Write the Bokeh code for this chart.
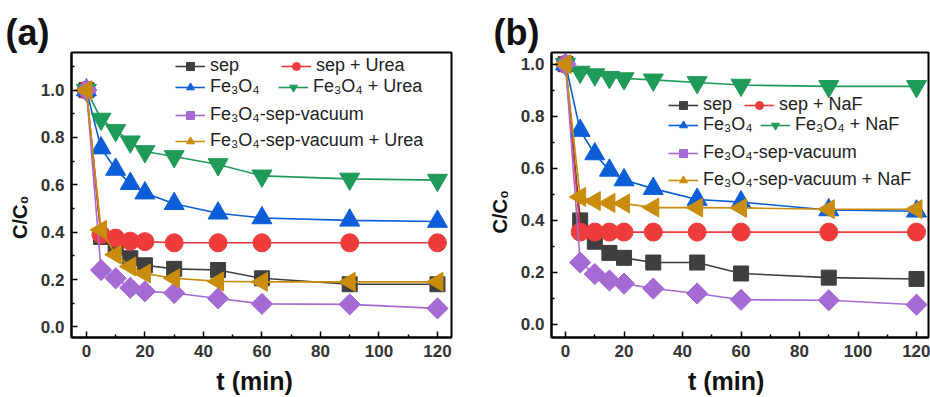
import math

from bokeh.embed import file_html
from bokeh.layouts import row
from bokeh.models import (FixedTicker, Legend, LegendItem,
                          NumeralTickFormatter, Range1d)
from bokeh.plotting import figure
from bokeh.resources import INLINE

# sampling times (min)
t = [0, 5, 10, 15, 20, 30, 45, 60, 90, 120]

# panel (a): with / without urea
a_sep = [1.0, 0.38, 0.335, 0.29, 0.26, 0.245, 0.24, 0.205, 0.18, 0.18]
a_sep_urea = [1.0, 0.39, 0.375, 0.362, 0.36, 0.355, 0.355, 0.355, 0.355, 0.355]
a_fe = [1.0, 0.755, 0.665, 0.605, 0.565, 0.52, 0.48, 0.46, 0.45, 0.445]
a_fe_urea = [1.0, 0.878, 0.83, 0.782, 0.741, 0.72, 0.686, 0.638, 0.625, 0.62]
a_vac = [1.0, 0.24, 0.205, 0.165, 0.15, 0.143, 0.12, 0.097, 0.095, 0.078]
a_vac_urea = [1.0, 0.41, 0.305, 0.255, 0.225, 0.205, 0.192, 0.19, 0.19, 0.19]

# panel (b): with / without NaF
b_sep = [1.0, 0.40, 0.318, 0.275, 0.256, 0.238, 0.238, 0.196, 0.18, 0.175]
b_sep_naf = [1.0, 0.355, 0.355, 0.355, 0.355, 0.355, 0.355, 0.355, 0.355, 0.355]
b_fe = [1.0, 0.745, 0.655, 0.592, 0.555, 0.522, 0.48, 0.47, 0.44, 0.435]
b_fe_naf = [1.0, 0.97, 0.96, 0.95, 0.945, 0.94, 0.93, 0.92, 0.915, 0.915]
b_vac = [1.0, 0.238, 0.194, 0.169, 0.157, 0.138, 0.119, 0.095, 0.093, 0.076]
b_vac_naf = [1.0, 0.49, 0.474, 0.467, 0.465, 0.449, 0.449, 0.448, 0.443, 0.443]

labels_a = ["sep", "sep + Urea", "Fe₃O₄", "Fe₃O₄ + Urea",
            "Fe₃O₄-sep-vacuum", "Fe₃O₄-sep-vacuum + Urea"]
labels_b = ["sep", "sep + NaF", "Fe₃O₄", "Fe₃O₄ + NaF",
            "Fe₃O₄-sep-vacuum", "Fe₃O₄-sep-vacuum + NaF"]

x_major = [0, 20, 40, 60, 80, 100, 120]
x_minor = [10, 30, 50, 70, 90, 110]
y_major = [0.0, 0.2, 0.4, 0.6, 0.8, 1.0]
y_minor = [0.1, 0.3, 0.5, 0.7, 0.9, 1.1]

FONT = "Liberation Sans"
NBSP = "\u00a0"

# marker styles: (colour, marker, size, angle)
STYLES = [
    ("#3f3f3f", "square", 15, 0.0),
    ("#ee3b3b", "circle", 18, 0.0),
    ("#0b5ed7", "triangle", 20, 0.0),
    ("#1f9a58", "inverted_triangle", 20, 0.0),
    ("#a66ad4", "square", 15, math.pi / 4),
    ("#c98c0b", "triangle", 19, math.pi / 2),
]


def make_panel(tag, tag_x, series, labels, xr, yr, border_left, border_right,
               key_pos, x_pad, y_pad):
    p = figure(width=465, height=397, x_range=Range1d(*xr),
               y_range=Range1d(*yr), output_backend="svg",
               toolbar_location=None, min_border_left=border_left,
               min_border_right=border_right, min_border_top=52,
               min_border_bottom=53, background_fill_color="white",
               border_fill_color="white")
    p.xgrid.visible = False
    p.ygrid.visible = False
    p.outline_line_color = "black"
    p.outline_line_width = 2

    # panel tag "(a)" / "(b)" in the top-left corner
    p.title.text = tag
    p.title.align = "left"
    p.title.offset = tag_x - border_left
    p.title.standoff = 0
    p.title.text_font = FONT
    p.title.text_font_style = "bold"
    p.title.text_font_size = "36px"
    p.title.text_color = "#111111"

    p.xaxis.ticker = FixedTicker(ticks=x_major, minor_ticks=x_minor)
    p.yaxis.ticker = FixedTicker(ticks=y_major, minor_ticks=y_minor)
    p.yaxis.formatter = NumeralTickFormatter(format="0.0")
    # trailing no-break spaces nudge the centred axis titles
    p.xaxis.axis_label = "t (min)" + NBSP * x_pad
    p.yaxis.axis_label = "C/C₀" + NBSP * y_pad
    for ax in (p.xaxis[0], p.yaxis[0]):
        ax.axis_line_width = 2
        ax.major_tick_in = 6
        ax.major_tick_out = 0
        ax.minor_tick_in = 3
        ax.minor_tick_out = 0
        ax.major_tick_line_width = 1.5
        ax.minor_tick_line_width = 1.5
        ax.major_label_text_font = FONT
        ax.major_label_text_font_style = "bold"
        ax.major_label_text_font_size = "17px"
        ax.major_label_text_color = "#333333"
        ax.major_label_standoff = 7
        ax.axis_label_text_font = FONT
        ax.axis_label_text_font_style = "bold"
        ax.axis_label_text_color = "#111111"
        ax.axis_label_standoff = 7
    p.xaxis.axis_label_text_font_size = "25px"
    p.yaxis.axis_label_text_font_size = "20px"

    frame_left = border_left
    frame_bottom = 397 - 53
    for vals, label, (color, marker, size, angle), (kx, ky) in zip(
            series, labels, STYLES, key_pos):
        ln = p.line(t, vals, line_color=color, line_width=1.6)
        sc = p.scatter(t, vals, marker=marker, size=size, angle=angle,
                       fill_color=color, line_color=color)
        key = Legend(items=[LegendItem(label=label, renderers=[ln, sc])],
                     location=(kx - frame_left, frame_bottom - ky - 16),
                     border_line_color=None, background_fill_alpha=0,
                     padding=0, margin=0, spacing=0,
                     glyph_width=30, glyph_height=20, label_height=20,
                     label_standoff=5, label_text_font=FONT,
                     label_text_font_size="18px",
                     label_text_color="#222222")
        p.add_layout(key)
    return p


pa = make_panel("(a)", 5,
                [a_sep, a_sep_urea, a_fe, a_fe_urea, a_vac, a_vac_urea],
                labels_a, (-5.1, 124.8), (-0.045, 1.159), 71, 14,
                [(175, 67), (281, 67), (175, 88), (278, 88),
                 (175, 116), (175, 142)], 2, 8)

pb = make_panel("(b)", 28,
                [b_sep, b_sep_naf, b_fe, b_fe_naf, b_vac, b_vac_naf],
                labels_b, (-4.8, 124.1), (-0.05, 1.045), 86, 2,
                [(668 - 465, 106), (744 - 465, 106), (668 - 465, 126),
                 (760 - 465, 126), (668 - 465, 154), (668 - 465, 181)],
                4, 6)

layout = row(pa, pb)
open("out.html", "w").write(file_html(layout, INLINE))
